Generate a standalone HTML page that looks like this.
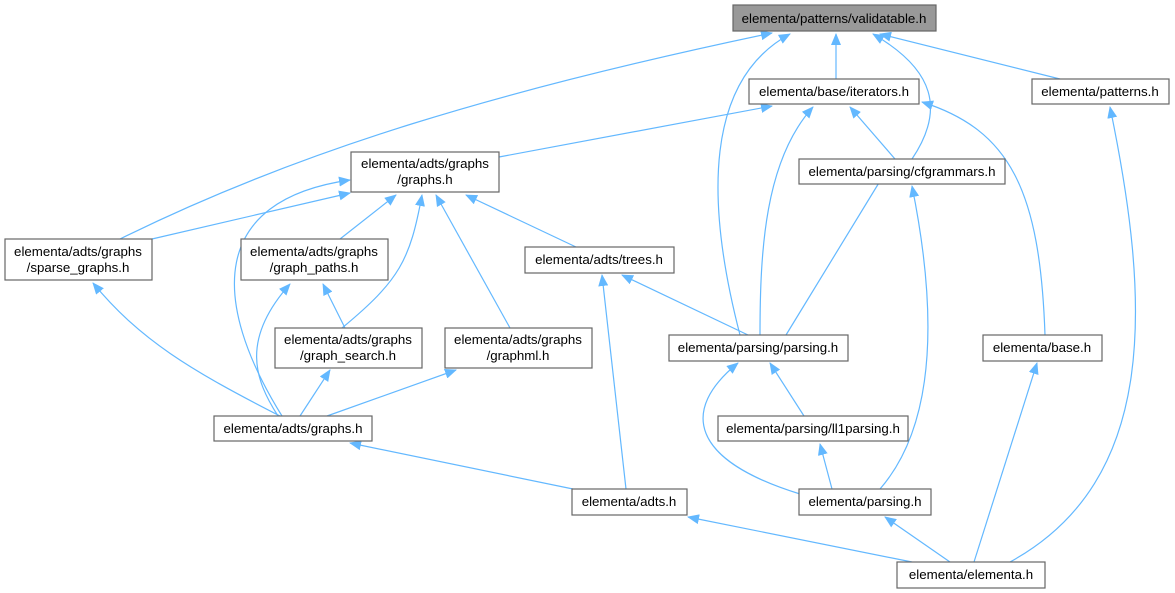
<!DOCTYPE html>
<html><head><meta charset="utf-8"><style>
html,body{margin:0;padding:0;background:#fff;width:1175px;height:593px;overflow:hidden}
svg text{font-family:"Liberation Sans",Arial,sans-serif;font-size:13.3px;fill:#000;text-anchor:middle}
</style></head><body>
<svg width="1175" height="593" viewBox="0 0 1175 593" xmlns="http://www.w3.org/2000/svg">
<defs><marker id="a" markerWidth="12" markerHeight="10" refX="11" refY="5" orient="auto" markerUnits="userSpaceOnUse"><path d="M0,0 L12,5 L0,10 z" fill="#63b8ff"/></marker></defs>
<g fill="none" stroke="#63b8ff" stroke-width="1.2" marker-end="url(#a)">
<path d="M120,239 C300,150 500,90 772,33"/>
<path d="M836,79 L836,34"/>
<path d="M1060,79 L880,34"/>
<path d="M740,335 C705,200 705,80 790,34"/>
<path d="M912,159 C945,110 935,70 873,34"/>
<path d="M499,157 L772,106"/>
<path d="M760,335 C760,250 765,160 813,107"/>
<path d="M895,159 L850,107"/>
<path d="M1045,335 C1040,190 1010,130 922,102"/>
<path d="M1010,562 C1160,480 1150,300 1110,107"/>
<path d="M152,239 L350,193"/>
<path d="M282,416 C210,300 210,200 350,180"/>
<path d="M340,239 L396,195"/>
<path d="M342,328 C400,280 410,260 422,195"/>
<path d="M510,328 L436,195"/>
<path d="M576,247 L466,195"/>
<path d="M786,335 L888,168"/>
<path d="M880,489 C940,420 935,300 912,186"/>
<path d="M280,416 C190,370 140,340 93,283"/>
<path d="M345,328 L323,284"/>
<path d="M278,416 C255,380 240,340 290,284"/>
<path d="M300,416 L330,370"/>
<path d="M327,416 L456,370"/>
<path d="M748,335 L622,275"/>
<path d="M626,489 L602,275"/>
<path d="M804,416 L770,363"/>
<path d="M800,494 C690,460 680,410 738,363"/>
<path d="M974,562 L1037,363"/>
<path d="M573,489 L350,443"/>
<path d="M832,489 L820,444"/>
<path d="M912,562 L688,517"/>
<path d="M950,562 L885,517"/>
</g>
<g stroke="#666" stroke-width="1.2" fill="#fff">
<rect x="733" y="5" width="203" height="26" fill="#999"/>
<rect x="749" y="79" width="170" height="25"/>
<rect x="1032" y="79" width="137" height="25"/>
<rect x="351" y="152" width="148" height="40"/>
<rect x="799" y="159" width="206" height="25"/>
<rect x="5" y="239" width="147" height="41"/>
<rect x="241" y="239" width="147" height="41"/>
<rect x="525" y="247" width="149" height="26"/>
<rect x="275" y="328" width="147" height="40"/>
<rect x="445" y="328" width="147" height="40"/>
<rect x="669" y="335" width="179" height="26"/>
<rect x="983" y="335" width="119" height="26"/>
<rect x="214" y="416" width="158" height="25"/>
<rect x="718" y="416" width="190" height="25"/>
<rect x="572" y="489" width="115" height="26"/>
<rect x="799" y="489" width="132" height="26"/>
<rect x="897" y="562" width="148" height="26"/>
</g>
<text x="834" y="23">elementa/patterns/validatable.h</text>
<text x="834" y="96">elementa/base/iterators.h</text>
<text x="1100" y="96">elementa/patterns.h</text>
<text x="425" y="168">elementa/adts/graphs</text>
<text x="425" y="184">/graphs.h</text>
<text x="902" y="176">elementa/parsing/cfgrammars.h</text>
<text x="78" y="256">elementa/adts/graphs</text>
<text x="78" y="272">/sparse_graphs.h</text>
<text x="314" y="256">elementa/adts/graphs</text>
<text x="314" y="272">/graph_paths.h</text>
<text x="599" y="264">elementa/adts/trees.h</text>
<text x="348" y="344">elementa/adts/graphs</text>
<text x="348" y="360">/graph_search.h</text>
<text x="518" y="344">elementa/adts/graphs</text>
<text x="518" y="360">/graphml.h</text>
<text x="758" y="352">elementa/parsing/parsing.h</text>
<text x="1042" y="352">elementa/base.h</text>
<text x="293" y="433">elementa/adts/graphs.h</text>
<text x="813" y="433">elementa/parsing/ll1parsing.h</text>
<text x="629" y="506">elementa/adts.h</text>
<text x="865" y="506">elementa/parsing.h</text>
<text x="971" y="579">elementa/elementa.h</text>
</svg>
</body></html>
